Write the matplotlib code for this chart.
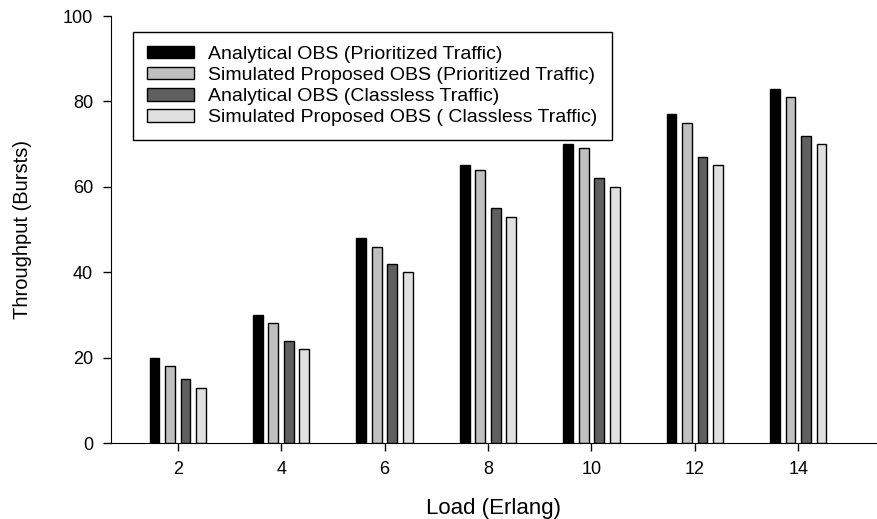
import numpy as np
import matplotlib
matplotlib.use("Agg")
import matplotlib.pyplot as plt

plt.rcParams['font.family'] = ['Liberation Sans', 'DejaVu Sans']

# Data
loads = [2, 4, 6, 8, 10, 12, 14]
analytical_prio = [20, 30, 48, 65, 70, 77, 83]
simulated_prio = [18, 28, 46, 64, 69, 75, 81]
analytical_classless = [15, 24, 42, 55, 62, 67, 72]
simulated_classless = [13, 22, 40, 53, 60, 65, 70]

series = [
    ("Analytical OBS (Prioritized Traffic)", analytical_prio, "#000000"),
    ("Simulated Proposed OBS (Prioritized Traffic)", simulated_prio, "#c0c0c0"),
    ("Analytical OBS (Classless Traffic)", analytical_classless, "#606060"),
    ("Simulated Proposed OBS ( Classless Traffic)", simulated_classless, "#e0e0e0"),
]

fig = plt.figure(figsize=(8.77, 5.19), dpi=100)
ax = fig.add_axes([0.1266, 0.1464, 0.872, 0.8227])

x = np.array(loads, dtype=float)
offsets = [-0.45, -0.15, 0.15, 0.45]
for (label, vals, color), off in zip(series, offsets):
    ax.bar(x + off, vals, width=0.19, color=color, edgecolor="black",
           linewidth=1.0, label=label)

ax.set_xlim(0.71, 15.5)
ax.set_ylim(0, 100)
ax.set_xticks(loads)
ax.set_yticks([0, 20, 40, 60, 80, 100])
ax.tick_params(direction="out", length=6, width=1, labelsize=13, pad=7)
ax.spines["top"].set_visible(False)
ax.spines["right"].set_visible(False)

ax.set_xlabel("Load (Erlang)", fontsize=16, labelpad=14)
ax.set_ylabel("Throughput (Bursts)", fontsize=14.5, labelpad=22)

leg = ax.legend(loc="upper left", bbox_to_anchor=(0.029, 0.963),
                fontsize=14, frameon=True, fancybox=False, framealpha=1,
                edgecolor="black", handlelength=2.4, handleheight=0.62,
                labelspacing=0.2, borderpad=0.72, handletextpad=0.75,
                borderaxespad=0)
leg.get_frame().set_linewidth(1.0)

fig.savefig("out.png", dpi=100)
